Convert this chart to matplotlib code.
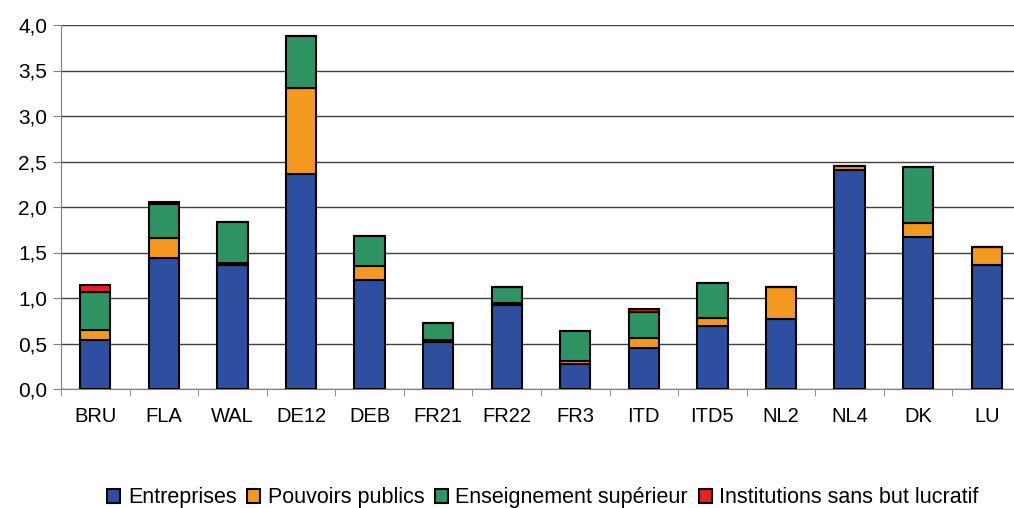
import matplotlib.pyplot as plt
import numpy as np
from matplotlib.ticker import FixedLocator, FuncFormatter

plt.rcParams['font.family'] = ['Liberation Sans', 'DejaVu Sans']

regions = ['BRU', 'FLA', 'WAL', 'DE12', 'DEB', 'FR21', 'FR22', 'FR3',
           'ITD', 'ITD5', 'NL2', 'NL4', 'DK', 'LU']
entreprises = [0.54, 1.44, 1.36, 2.36, 1.20, 0.52, 0.92, 0.27, 0.45, 0.69, 0.77, 2.41, 1.67, 1.36]
pouvoirs    = [0.11, 0.22, 0.02, 0.95, 0.15, 0.02, 0.02, 0.04, 0.11, 0.09, 0.35, 0.04, 0.15, 0.20]
enseign     = [0.42, 0.37, 0.46, 0.57, 0.33, 0.18, 0.18, 0.33, 0.29, 0.38, 0.00, 0.00, 0.62, 0.00]
isbl        = [0.07, 0.02, 0.00, 0.00, 0.00, 0.00, 0.00, 0.00, 0.03, 0.00, 0.00, 0.00, 0.00, 0.00]

series = [
    ('Entreprises', entreprises, '#2E4FA0'),
    ('Pouvoirs publics', pouvoirs, '#F4991F'),
    ('Enseignement supérieur', enseign, '#2E9464'),
    ('Institutions sans but lucratif', isbl, '#E82020'),
]

fig = plt.figure(figsize=(10.14, 5.08), dpi=100)
ax = fig.add_axes([61 / 1014, (508 - 389) / 508, 960 / 1014, 364 / 508])

x = np.arange(len(regions))
bottom = np.zeros(len(regions))
for label, vals, color in series:
    vals = np.array(vals)
    ax.bar(x, vals, 0.44, bottom=bottom, color=color, edgecolor='black',
           linewidth=1.5, label=label, zorder=3)
    bottom += vals

ax.set_xlim(-0.5, len(regions) - 0.5)
ax.set_ylim(0, 4.0)
ax.set_yticks(np.arange(0, 4.01, 0.5))
ax.yaxis.set_major_formatter(FuncFormatter(lambda v, p: f'{v:.1f}'.replace('.', ',')))
ax.grid(axis='y', color='#404040', linewidth=1.0, zorder=0)

ax.set_xticks(x)
ax.set_xticklabels(regions)
ax.xaxis.set_minor_locator(FixedLocator(np.arange(-0.5, len(regions), 1.0)))
ax.tick_params(axis='x', which='major', length=0, pad=13, labelsize=14.5)
ax.tick_params(axis='x', which='minor', length=5, color='#808080', direction='out')
ax.tick_params(axis='y', length=6, color='#808080', labelsize=15, pad=4)

for s in ['top', 'right']:
    ax.spines[s].set_visible(False)
ax.spines['left'].set_color('#808080')
ax.spines['bottom'].set_color('#808080')

ax.legend(loc='lower center', bbox_to_anchor=(543 / 1014, -0.022), bbox_transform=fig.transFigure,
          ncol=4, frameon=False, fontsize=15.5, handlelength=0.6, handleheight=0.6,
          handletextpad=0.35, columnspacing=0.5, borderaxespad=0.1)

fig.savefig('out.png', dpi=100, facecolor='white')
